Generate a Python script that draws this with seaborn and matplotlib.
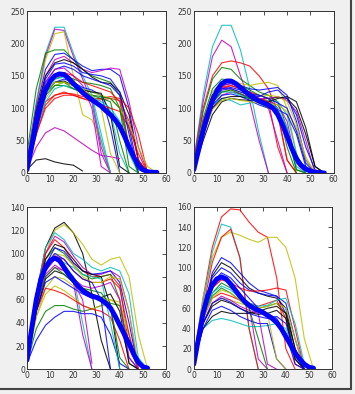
import matplotlib
matplotlib.use("Agg")
import matplotlib.pyplot as plt
import numpy as np
import pandas as pd
import seaborn as sns
from matplotlib.lines import Line2D

# sample positions for the thin curves and for the thick mean curve
X = [0, 4, 8, 12, 16, 20, 24, 28, 32, 36, 40, 44, 48, 52, 56]
MEAN_X = list(range(0, 58, 2))

# ---- panel 1 (top left) ----
P1_CURVES = [
    [20, 110, 185, 225, 225, 185, 150, 120, 60, 0],
    [20, 105, 180, 222, 220, 180, 145, 110, 30, 0],
    [15, 100, 175, 215, 218, 150, 90, 82, 50, 0],
    [30, 130, 185, 190, 190, 175, 160, 150, 145, 140, 120, 40, 0],
    [15, 100, 160, 183, 185, 175, 165, 158, 160, 160, 150, 100, 20, 0],
    [10, 90, 150, 175, 180, 170, 160, 155, 158, 162, 160, 110, 40, 0],
    [10, 95, 150, 170, 175, 170, 160, 148, 140, 138, 125, 90, 20, 0],
    [10, 85, 140, 160, 165, 160, 150, 145, 140, 135, 120, 70, 5, 0],
    [5, 70, 110, 120, 123, 122, 118, 115, 115, 118, 115, 100, 60, 0],
    [5, 60, 105, 120, 125, 120, 115, 112, 113, 115, 112, 80, 20, 0],
    [10, 80, 125, 135, 140, 135, 130, 125, 120, 95, 30, 0],
    [10, 80, 130, 145, 150, 145, 140, 138, 135, 130, 100, 10, 0],
    [10, 85, 130, 150, 155, 150, 140, 135, 130, 125, 110, 40, 0],
    [10, 90, 140, 160, 162, 150, 135, 100, 10, 0],
    [10, 85, 135, 150, 150, 140, 130, 115, 40, 0],
    [5, 75, 125, 140, 145, 140, 132, 128, 120, 70, 0],
    [5, 70, 115, 135, 140, 135, 130, 125, 120, 115, 100, 75, 40, 10, 0],
    [5, 75, 125, 140, 142, 135, 128, 125, 123, 90, 10, 0],
    [5, 70, 120, 135, 135, 130, 125, 120, 115, 110, 50, 0],
    [5, 65, 110, 130, 135, 130, 125, 118, 110, 100, 80, 30, 0],
    [5, 60, 100, 115, 120, 120, 115, 110, 105, 100, 95, 70, 30, 0],
    [5, 40, 62, 70, 65, 55, 45, 35, 27, 25, 22],
    [5, 20, 22, 17, 14, 12, 3],
    [10, 90, 145, 168, 170, 165, 155, 152, 150, 145, 125, 60, 0],
    [5, 80, 125, 140, 140, 130, 125, 120, 118, 115, 100, 40, 0],
    [10, 80, 130, 145, 148, 140, 130, 110, 50, 0],
    [5, 80, 125, 140, 140, 135, 128, 120, 100, 30, 0],
]
P1_COLORS = "cmygbmkbrrcgrmmbykgcrmkbgcy"
P1_MEAN = [5, 40, 75, 105, 128, 142, 150, 153, 152, 146, 138, 131, 124, 118, 113,
           108, 103, 96, 90, 82, 72, 57, 40, 25, 12, 5, 2, 1, 1]

# ---- panel 2 (top right) ----
P2_CURVES = [
    [20, 120, 195, 228, 228, 190, 130, 60, 0],
    [20, 110, 180, 205, 195, 150, 110, 50, 0],
    [15, 100, 150, 170, 173, 170, 165, 150, 130, 95, 20, 0],
    [15, 95, 145, 163, 160, 145, 135, 125, 120, 110, 70, 5, 0],
    [10, 80, 125, 140, 142, 138, 135, 138, 140, 135, 100, 30, 0],
    [10, 75, 120, 135, 138, 135, 130, 128, 130, 132, 120, 80, 20, 0],
    [5, 50, 90, 110, 115, 113, 112, 113, 115, 117, 115, 100, 60, 10, 0],
    [5, 60, 100, 120, 125, 122, 118, 115, 115, 118, 112, 95, 50, 0],
    [10, 70, 105, 115, 112, 105, 108, 110, 112, 110, 90, 30, 0],
    [10, 80, 120, 133, 135, 130, 125, 120, 115, 90, 20, 0],
    [10, 85, 130, 145, 143, 135, 128, 120, 115, 100, 40, 0],
    [10, 80, 120, 132, 130, 122, 115, 112, 110, 105, 80, 15, 0],
    [5, 65, 105, 120, 122, 118, 112, 105, 100, 98, 90, 60, 10, 0],
    [10, 70, 110, 125, 128, 125, 120, 118, 120, 118, 110, 75, 20, 0],
    [5, 60, 100, 115, 118, 118, 115, 112, 110, 115, 118, 110, 70, 10, 0],
    [10, 75, 115, 130, 135, 130, 120, 115, 110, 40, 0],
    [10, 70, 110, 125, 125, 120, 115, 110, 108, 100, 70, 10, 0],
    [5, 65, 108, 125, 128, 122, 115, 108, 100, 95, 60, 5, 0],
    [10, 75, 120, 135, 138, 132, 125, 115, 100, 50, 0],
    [10, 70, 110, 128, 130, 125, 120, 118, 125, 128, 115, 90, 40, 5, 0],
    [5, 60, 98, 112, 115, 112, 110, 108, 108, 105, 95, 70, 25, 0],
    [5, 70, 115, 130, 132, 128, 122, 120, 115, 108, 100, 65, 15, 0],
]
P2_COLORS = "cmrgybkmcrgmbykrcgmbyb"
P2_MEAN = [5, 35, 65, 90, 112, 128, 138, 142, 142, 138, 132, 126, 120, 115, 111,
           108, 105, 100, 90, 75, 57, 38, 22, 12, 6, 3, 1, 0.5, 0]

# ---- panel 3 (bottom left) ----
P3_CURVES = [
    [10, 65, 105, 122, 127, 118, 100, 65, 25, 0],
    [10, 60, 100, 120, 125, 118, 108, 95, 90, 95, 97, 80, 30, 0],
    [10, 65, 105, 118, 112, 100, 95, 88, 85, 88, 85, 65, 10, 0],
    [10, 60, 100, 115, 110, 98, 88, 82, 82, 85, 80, 50, 0],
    [10, 65, 100, 112, 105, 92, 85, 80, 80, 82, 72, 20, 0],
    [10, 60, 95, 105, 100, 90, 82, 78, 80, 82, 60, 5, 0],
    [10, 55, 90, 105, 102, 92, 85, 82, 83, 85, 75, 40, 0],
    [10, 60, 95, 108, 105, 95, 85, 82, 80, 55, 0],
    [10, 55, 85, 95, 90, 80, 40, 0],
    [10, 55, 82, 90, 85, 75, 30, 0],
    [8, 45, 70, 80, 78, 72, 68, 65, 62, 60, 55, 30, 0],
    [5, 35, 50, 55, 55, 52, 50, 52, 55, 57, 55, 20, 0],
    [5, 25, 38, 45, 50, 50, 48, 48, 45, 30, 5, 0],
    [5, 45, 65, 72, 68, 62, 55, 52, 55, 60, 58, 30, 0],
    [8, 50, 70, 68, 65, 60, 55, 52, 50, 45, 25, 0],
    [8, 50, 75, 80, 75, 70, 65, 62, 60, 55, 40, 10, 0],
    [8, 55, 85, 95, 92, 88, 82, 80, 78, 40, 0],
    [8, 50, 80, 88, 85, 78, 72, 70, 72, 75, 60, 10, 0],
    [8, 50, 78, 85, 82, 75, 70, 65, 62, 65, 50, 5, 0],
    [8, 60, 88, 98, 95, 85, 78, 75, 75, 78, 70, 30, 0],
    [8, 55, 80, 88, 82, 75, 70, 68, 66, 55, 10, 0],
    [8, 60, 90, 100, 98, 90, 80, 75, 75, 80, 78, 50, 5, 0],
    [8, 60, 90, 100, 95, 85, 78, 75, 60, 0],
    [8, 55, 85, 95, 88, 75, 60, 5],
]
P3_COLORS = "kycmrgbkcmygbyrbcmkrgybm"
P3_MEAN = [8, 35, 60, 78, 88, 94, 96, 94, 88, 82, 77, 72, 68, 65, 63,
           62, 60, 57, 53, 46, 38, 30, 22, 13, 6, 2, 1]

# ---- panel 4 (bottom right) ----
P4_CURVES = [
    [10, 70, 120, 150, 158, 157, 145, 135, 130, 90, 20, 0],
    [10, 70, 110, 130, 135, 132, 128, 125, 130, 130, 120, 90, 30, 0],
    [10, 65, 115, 143, 140, 110, 40, 0],
    [10, 60, 105, 130, 138, 110, 40, 0],
    [8, 55, 95, 110, 105, 95, 85, 78, 75, 72, 55, 10, 0],
    [8, 55, 92, 105, 100, 90, 80, 75, 72, 70, 60, 20, 0],
    [8, 55, 90, 100, 95, 85, 78, 75, 73, 72, 65, 30, 0],
    [8, 50, 80, 88, 85, 80, 77, 77, 78, 80, 78, 40, 0],
    [8, 50, 80, 90, 85, 75, 62, 10, 0],
    [8, 40, 48, 50, 48, 45, 42, 42, 43, 45, 40, 15, 0],
    [8, 50, 75, 85, 80, 72, 65, 60, 62, 65, 55, 10, 0],
    [8, 45, 65, 70, 68, 65, 62, 60, 62, 65, 60, 30, 0],
    [8, 40, 52, 57, 55, 55, 55, 57, 60, 62, 55, 20, 0],
    [8, 40, 58, 62, 58, 52, 48, 45, 45, 10, 0],
    [8, 45, 65, 72, 68, 62, 58, 55, 5, 0],
    [8, 50, 72, 80, 75, 68, 60, 30, 0],
    [8, 50, 70, 75, 72, 68, 65, 62, 65, 68, 50, 5, 0],
    [8, 50, 75, 82, 78, 70, 65, 62, 63, 68, 70, 45, 5, 0],
    [8, 45, 62, 68, 65, 60, 56, 54, 55, 58, 50, 10, 0],
    [8, 55, 85, 95, 90, 80, 70, 60, 55, 50, 35, 5, 0],
    [8, 50, 70, 78, 75, 68, 62, 60, 55, 10, 0],
    [8, 45, 65, 70, 66, 60, 55, 52, 50, 52, 45, 15, 0],
]
P4_COLORS = "rycrbkbrmcgykbmgrckbyb"
P4_MEAN = [5, 30, 55, 72, 83, 89, 91, 89, 84, 78, 72, 67, 63, 60, 58,
           56, 53, 50, 46, 40, 32, 24, 16, 10, 5, 2, 1]

CLASSIC = {
    "b": (0.0, 0.0, 1.0), "g": (0.0, 0.5, 0.0), "r": (1.0, 0.0, 0.0),
    "c": (0.0, 0.75, 0.75), "m": (0.75, 0.0, 0.75), "y": (0.75, 0.75, 0.0),
    "k": (0.0, 0.0, 0.0),
}


def draw_panel(ax, curves, colors, mean_y, ymax, ystep):
    rows = []
    for i, c in enumerate(curves):
        for x, y in zip(X, c):
            rows.append((i, x, y))
    df = pd.DataFrame(rows, columns=["curve", "x", "y"])
    pal = {i: CLASSIC[colors[i]] for i in range(len(curves))}
    sns.lineplot(data=df, x="x", y="y", hue="curve", palette=pal,
                 estimator=None, legend=False, linewidth=0.8, alpha=0.85, ax=ax)
    sns.lineplot(x=MEAN_X[:len(mean_y)], y=mean_y, color="blue",
                 linewidth=3.5, ax=ax)
    ax.set_xlim(0, 60)
    ax.set_ylim(0, ymax)
    ax.set_xticks(range(0, 61, 10))
    ax.set_yticks(range(0, ymax + 1, ystep))
    ax.set_xlabel("")
    ax.set_ylabel("")
    ax.tick_params(direction="in", length=3, width=0.6, top=True, right=True,
                   labelsize=5.5, colors="#333333", pad=1.5)
    for s in ax.spines.values():
        s.set_linewidth(0.7)
        s.set_color("#333333")


sns.set_style("white")
fig = plt.figure(figsize=(3.55, 3.94), dpi=100, facecolor="#f0f0f0")

ax1 = fig.add_axes([0.076, 0.561, 0.392, 0.411])
ax2 = fig.add_axes([0.546, 0.561, 0.394, 0.411])
ax3 = fig.add_axes([0.076, 0.063, 0.392, 0.411])
ax4 = fig.add_axes([0.546, 0.063, 0.389, 0.412])

draw_panel(ax1, P1_CURVES, P1_COLORS, P1_MEAN, 250, 50)
draw_panel(ax2, P2_CURVES, P2_COLORS, P2_MEAN, 250, 50)
draw_panel(ax3, P3_CURVES, P3_COLORS, P3_MEAN, 140, 20)
draw_panel(ax4, P4_CURVES, P4_COLORS, P4_MEAN, 160, 20)

# screenshot shadow along the right and bottom edges
fig.add_artist(Line2D([351 / 355, 351 / 355], [1, 5 / 394], transform=fig.transFigure,
                      color="#444444", linewidth=1.5))
fig.add_artist(Line2D([0, 351 / 355], [5 / 394, 5 / 394], transform=fig.transFigure,
                      color="#444444", linewidth=1.5))

fig.savefig("out.png", dpi=100, facecolor=fig.get_facecolor())
